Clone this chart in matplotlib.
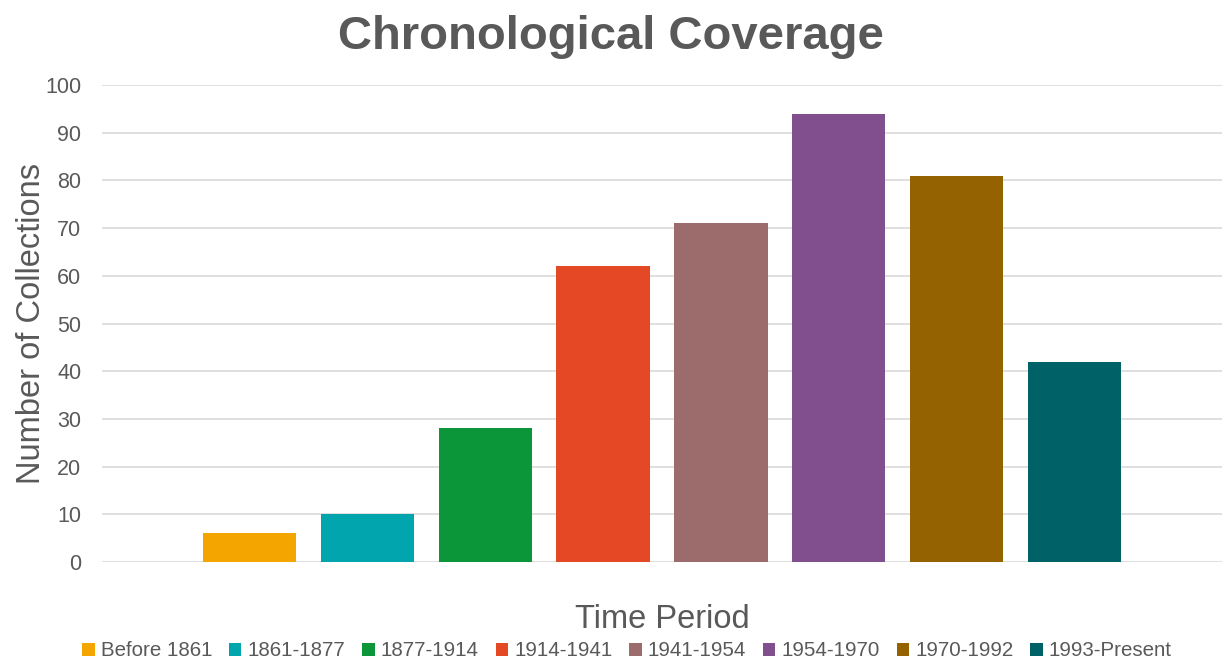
import matplotlib
matplotlib.use("Agg")
import matplotlib.pyplot as plt
from matplotlib.patches import Patch

periods = ["Before 1861", "1861-1877", "1877-1914", "1914-1941",
           "1941-1954", "1954-1970", "1970-1992", "1993-Present"]
collections = [6, 10, 28, 62, 71, 94, 81, 42]
colors = ["#F4A500", "#00A5AE", "#0A9639", "#E54825",
          "#9C6B6B", "#814F8D", "#946200", "#006266"]
yticks = [0, 10, 20, 30, 40, 50, 60, 70, 80, 90, 100]

text_color = "#595959"
plt.rcParams["font.family"] = ["Liberation Sans", "DejaVu Sans"]

fig = plt.figure(figsize=(12.25, 6.6), dpi=100)
ax = fig.add_axes([102 / 1225, 1 - 562 / 660, 1120 / 1225, 477 / 660])

x = list(range(len(periods)))
ax.bar(x, collections, width=0.79, color=colors, zorder=3)

ax.set_xlim(-1.25, len(periods) - 1 + 1.25)
ax.set_ylim(0, 100)
ax.set_yticks(yticks)
ax.set_xticks([])
ax.yaxis.grid(True, color="#D9D9D9", linewidth=1.2, zorder=0)
for s in ax.spines.values():
    s.set_visible(False)
ax.tick_params(axis="y", length=0, pad=15, labelsize=15.5, labelcolor=text_color)

ax.yaxis.set_label_coords(-70 / 1120, 0.5)
ax.set_ylabel("Number of Collections", fontsize=23.5, color=text_color, va="center")
ax.set_xlabel("Time Period", fontsize=23.5, color=text_color, labelpad=30)

fig.text(611 / 1225, 1 - 37 / 660, "Chronological Coverage", ha="center", va="center",
         fontsize=34, fontweight="bold", color=text_color)

handles = [Patch(facecolor=c, edgecolor="none") for c in colors]
fig.legend(handles, periods, loc="center", bbox_to_anchor=(627 / 1225, 1 - 651 / 660),
           ncol=len(periods), frameon=False, fontsize=14.8, labelcolor=text_color,
           handlelength=0.6, handleheight=0.6, handletextpad=0.3,
           columnspacing=0.82, borderpad=0, borderaxespad=0)

fig.savefig("out.png", dpi=100)
